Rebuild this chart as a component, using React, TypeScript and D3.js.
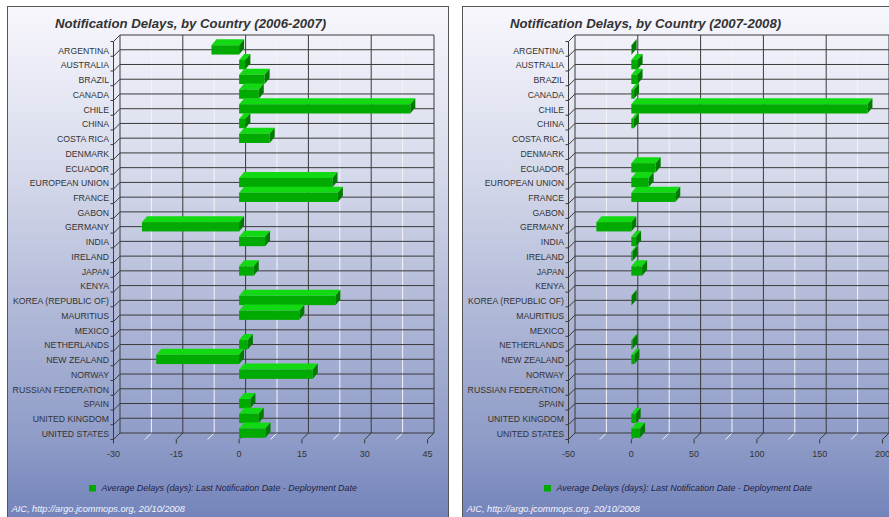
import * as d3 from "d3";

const countries = [
  "ARGENTINA", "AUSTRALIA", "BRAZIL", "CANADA", "CHILE", "CHINA", "COSTA RICA",
  "DENMARK", "ECUADOR", "EUROPEAN UNION", "FRANCE", "GABON", "GERMANY", "INDIA",
  "IRELAND", "JAPAN", "KENYA", "KOREA (REPUBLIC OF)", "MAURITIUS", "MEXICO",
  "NETHERLANDS", "NEW ZEALAND", "NORWAY", "RUSSIAN FEDERATION", "SPAIN",
  "UNITED KINGDOM", "UNITED STATES",
];

// average delay in days, null = no floats that year
const delays0607: (number | null)[] = [
  -6.6, 1.5, 6.1, 4.7, 40.9, 1.5, 7.3, null, null, 22.3, 23.6, null, -23.2, 6.2,
  null, 3.5, null, 23, 14.4, null, 2.1, -19.8, 17.6, null, 2.7, 4.7, 6.3,
];
const delays0708: (number | null)[] = [
  0.3, 5, 5, 2.2, 188, 2, null, null, 19.4, 13.8, 35, null, -27.8, 3.8,
  1, 8.6, null, 0.3, null, null, 0.8, 2.5, null, null, null, 3.5, 7,
];

const ticks0607 = [-30, -15, 0, 15, 30, 45];
const ticks0708 = [-50, 0, 50, 100, 150, 200];

const legendText = "Average Delays (days): Last Notification Date - Deployment Date";
const footerText = "AIC, http://argo.jcommops.org, 20/10/2008";

const panelW = 441;
const panelTop = 6;
const depthX = 6.5;
const depthY = 6.5;
const barDX = 5;
const barDY = 6;
const wallTop = 35;
const wallBottom = 433;
const font = "'Liberation Sans', Arial, sans-serif";

function Panel({ x0, title, values, ticks }: { x0: number; title: string; values: (number | null)[]; ticks: number[] }) {
  const x = d3.scaleLinear()
    .domain([ticks[0], ticks[ticks.length - 1]])
    .range([x0 + 106.5, x0 + 420.5]);
  const y = d3.scalePoint<string>()
    .domain(countries)
    .range([wallTop + (wallBottom - wallTop) / countries.length, wallBottom]);
  const minor = d3.pairs(ticks).map(([a, b]) => (a + b) / 2);
  const bx = (v: number) => x(v) + depthX;
  const left = ticks[0];
  const right = ticks[ticks.length - 1];
  const gid = "bg" + x0;
  const hLines = [wallTop, ...countries.map(c => y(c)!)];

  return (
    <g>
      <defs>
        <linearGradient id={gid} x1="0" y1="0" x2="0" y2="1">
          <stop offset="0" stopColor="#f8f7fd" />
          <stop offset="0.3" stopColor="#d6daeb" />
          <stop offset="0.55" stopColor="#b2bad8" />
          <stop offset="0.8" stopColor="#8f9cc8" />
          <stop offset="1" stopColor="#6a7bb5" />
        </linearGradient>
      </defs>
      <rect x={x0 + 0.5} y={panelTop + 0.5} width={panelW} height={540} fill={`url(#${gid})`} stroke="#555" />
      <text x={x0 + 48} y={28} fontFamily={font} fontSize={13.2} fontWeight="bold" fontStyle="italic" fill="#333">{title}</text>

      {/* minor gridlines, white */}
      {minor.map(m => (
        <g key={"m" + m} stroke="#f4f4f8" strokeWidth={1}>
          <line x1={bx(m)} x2={bx(m)} y1={wallTop} y2={wallBottom} />
          <line x1={bx(m)} x2={x(m)} y1={wallBottom} y2={wallBottom + depthY} />
        </g>
      ))}

      {/* category gridlines on back wall + left wall */}
      {hLines.map((yy, i) => (
        <g key={"h" + i} stroke="#3a3a3a" strokeWidth={1} fill="none">
          <line x1={bx(left)} x2={bx(right)} y1={yy} y2={yy} />
          <polyline points={`${bx(left)},${yy} ${x(left)},${yy + depthY} ${x(left) - 3},${yy + depthY}`} />
        </g>
      ))}

      {/* major gridlines */}
      {ticks.map(t => (
        <g key={"t" + t} stroke="#3a3a3a" strokeWidth={1} fill="none">
          <line x1={bx(t)} x2={bx(t)} y1={wallTop} y2={wallBottom} />
          <polyline points={`${bx(t)},${wallBottom} ${x(t)},${wallBottom + depthY} ${x(t)},${wallBottom + depthY + 4}`} />
        </g>
      ))}
      <line x1={x(left)} x2={x(left)} y1={wallTop + depthY} y2={wallBottom + depthY} stroke="#3a3a3a" />

      {/* bars */}
      {countries.map((c, i) => {
        const v = values[i];
        if (v === null) return null;
        const yc = y(c)!;
        const top = yc - 4.5;
        const bot = yc + 4.8;
        const xl = x(Math.min(0, v));
        const xr = x(Math.max(0, v));
        return (
          <g key={c}>
            <polygon points={`${xl},${top} ${xl + barDX},${top - barDY} ${xr + barDX},${top - barDY} ${xr},${top}`} fill="#12da12" />
            <polygon points={`${xr},${top} ${xr + barDX},${top - barDY} ${xr + barDX},${bot - barDY} ${xr},${bot}`} fill="#007a00" />
            <rect x={xl} y={top} width={xr - xl} height={bot - top} fill="#00aa00" />
          </g>
        );
      })}

      {/* category labels */}
      {countries.map(c => (
        <text key={"l" + c} x={x0 + 102} y={y(c)! + 0.8} dy="0.35em" textAnchor="end" fontFamily={font} fontSize={8.7} fill="#333">{c}</text>
      ))}

      {/* value axis labels */}
      {ticks.map(t => (
        <text key={"v" + t} x={x(t)} y={457} textAnchor="middle" fontFamily={font} fontSize={9} fill="#333">{t}</text>
      ))}

      {/* legend */}
      <rect x={x0 + 82} y={485} width={7} height={6.5} fill="#00aa00" />
      <text x={x0 + 94.5} y={491} fontFamily={font} fontSize={8.9} fontStyle="italic" fill="#1e2244">{legendText}</text>

      <text x={x0 + 4.7} y={512} fontFamily={font} fontSize={9.2} fontStyle="italic" fill="#f4f4ff">{footerText}</text>
    </g>
  );
}

export default function App() {
  return (
    <svg width={889} height={517} style={{ position: "absolute", left: 0, top: 0, background: "#fff" }}>
      <Panel x0={7} title="Notification Delays, by Country (2006-2007)" values={delays0607} ticks={ticks0607} />
      <Panel x0={462} title="Notification Delays, by Country (2007-2008)" values={delays0708} ticks={ticks0708} />
    </svg>
  );
}
